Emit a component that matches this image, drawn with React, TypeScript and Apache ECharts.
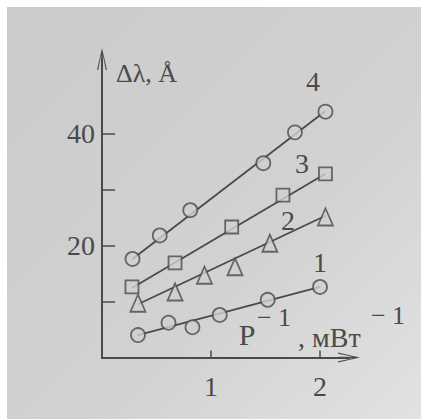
import React, { useEffect, useRef } from "react";
import * as echarts from "echarts";

// Series data: [P^-1 (1/mW), Δλ (Å)]
const series4X = [0.28, 0.53, 0.81, 1.48, 1.77, 2.05];
const series4Y = [17.6, 21.8, 26.3, 34.7, 40.2, 43.9];
const series3X = [0.275, 0.67, 1.19, 1.66, 2.05];
const series3Y = [12.6, 16.9, 23.3, 29.0, 32.8];
const series2X = [0.33, 0.67, 0.94, 1.22, 1.54, 2.05];
const series2Y = [9.7, 11.7, 14.7, 16.2, 20.4, 25.1];
const series1X = [0.33, 0.61, 0.83, 1.08, 1.52, 2.0];
const series1Y = [4.0, 6.2, 5.4, 7.6, 10.3, 12.6];

// Fitted straight lines (endpoints)
const fit4 = [[0.28, 17.6], [2.05, 44.0]];
const fit3 = [[0.275, 12.4], [2.05, 32.8]];
const fit2 = [[0.33, 9.5], [2.05, 25.3]];
const fit1 = [[0.33, 4.0], [2.0, 12.6]];

const seriesNames = ["1", "2", "3", "4"];
const xTickValues = [1, 2];
const xLabelValues = [1, 2];
const yTickValues = [10, 20, 30, 40];
const yLabelValues = [20, 40];

const INK = "#4a4a4a";
const BG = "#d0d0d0";
const FONT = "Liberation Serif";
const ARROW = "path://M0,22 L5,0 L10,22 L8.8,22 L5.8,7 L5.8,22 L4.2,22 L4.2,7 L1.2,22 Z";

const zip = (xs: number[], ys: number[]) => xs.map((x, i) => [x, ys[i]]);

export default function App() {
  const ref = useRef<HTMLDivElement>(null);
  useEffect(() => {
    if (!ref.current) return;
    const chart = echarts.init(ref.current, undefined, { renderer: "svg" });
    const markerStyle = { color: BG, borderColor: INK, borderWidth: 1.8 };
    const lineSeries = (data: number[][]) => ({
      type: "line",
      data,
      showSymbol: false,
      symbol: "none",
      lineStyle: { color: INK, width: 1.8 },
      z: 2,
      silent: true,
    });
    const scatter = (data: number[][], symbol: string, size: any) => ({
      type: "scatter",
      data,
      symbol,
      symbolSize: size,
      itemStyle: markerStyle,
      z: 3,
      silent: true,
    });
    const txt = (text: string, x: number, y: number, size: number, align = "center") => ({
      type: "text",
      x,
      y,
      z: 10,
      style: {
        text,
        fill: INK,
        font: `${size}px "${FONT}"`,
        align,
        verticalAlign: "middle",
      },
    });
    chart.setOption({
      animation: false,
      backgroundColor: "#ffffff",
      grid: { left: 102, top: 59, width: 247, bottom: 61.5 },
      xAxis: {
        type: "value",
        min: 0,
        max: 2.266,
        interval: 1,
        axisLine: {
          show: true,
          lineStyle: { color: INK, width: 2 },
          symbol: ["none", ARROW],
          symbolSize: [11, 22],
        },
        axisTick: {
          show: true,
          inside: true,
          length: 7,
          customValues: xTickValues,
          lineStyle: { color: INK, width: 1.5 },
        },
        axisLabel: {
          show: true,
          customValues: xLabelValues,
          margin: 15,
          color: INK,
          fontFamily: FONT,
          fontSize: 28,
        },
        splitLine: { show: false },
      },
      yAxis: {
        type: "value",
        min: 0,
        max: 53.3,
        interval: 10,
        axisLine: {
          show: true,
          lineStyle: { color: INK, width: 2 },
          symbol: ["none", ARROW],
          symbolSize: [11, 22],
        },
        axisTick: {
          show: true,
          inside: true,
          length: 13,
          customValues: yTickValues,
          lineStyle: { color: INK, width: 1.5 },
        },
        axisLabel: {
          show: true,
          customValues: yLabelValues,
          margin: 7,
          color: INK,
          fontFamily: FONT,
          fontSize: 28,
        },
        splitLine: { show: false },
      },
      graphic: [
        {
          type: "rect",
          z: -10,
          shape: { x: 7, y: 7, width: 414, height: 412 },
          style: {
            fill: new echarts.graphic.LinearGradient(0, 0, 1, 1, [
              { offset: 0, color: "#cbcbcb" },
              { offset: 0.6, color: "#d2d2d2" },
              { offset: 1, color: "#e2e2e2" },
            ]),
          },
          silent: true,
        },
        txt("Δλ, Å", 116, 73, 26, "left"),
        txt(seriesNames[3], 313, 81, 28),
        txt(seriesNames[2], 302, 163, 28),
        txt(seriesNames[1], 288, 220, 28),
        txt(seriesNames[0], 320, 262, 28),
        txt("P", 247, 334, 30),
        txt("− 1", 274, 317, 26),
        txt(", мВт", 298, 337, 28, "left"),
        txt("− 1", 388, 315, 26),
      ],
      series: [
        lineSeries(fit4),
        lineSeries(fit3),
        lineSeries(fit2),
        lineSeries(fit1),
        scatter(zip(series4X, series4Y), "circle", 14),
        scatter(zip(series3X, series3Y), "rect", 13),
        scatter(zip(series2X, series2Y), "triangle", [15, 17]),
        scatter(zip(series1X, series1Y), "circle", 14),
      ],
    });
    return () => chart.dispose();
  }, []);
  return (
    <div
      ref={ref}
      style={{ position: "fixed", left: 0, top: 0, width: 421, height: 419 }}
    />
  );
}
